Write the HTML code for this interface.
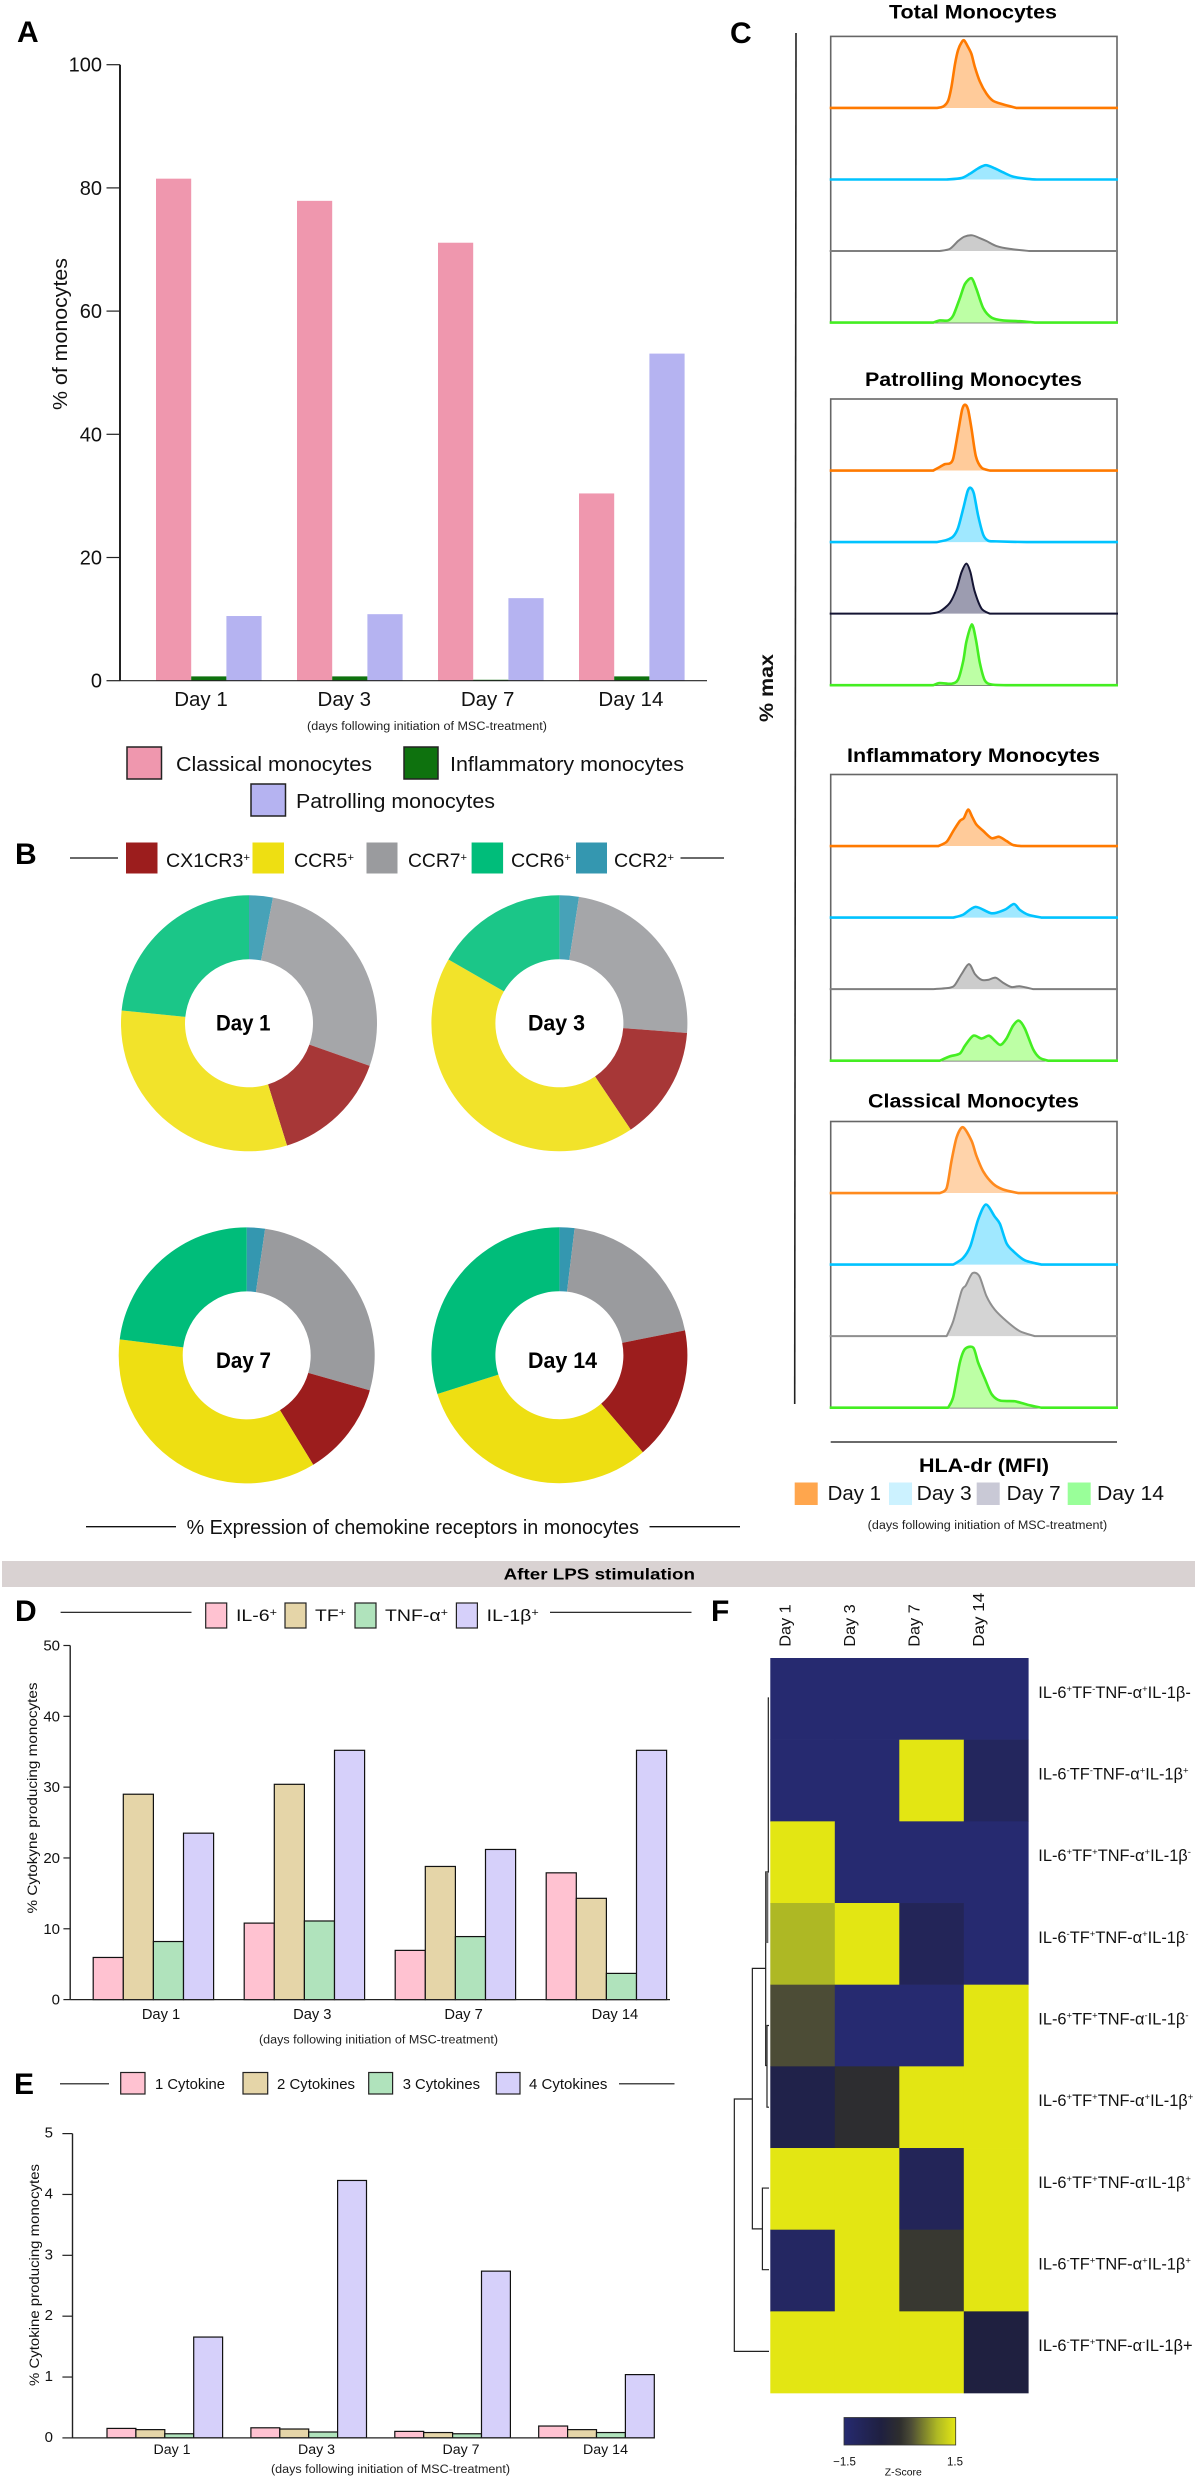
<!DOCTYPE html>
<html lang="en">
<head>
<meta charset="utf-8">
<title>Monocyte phenotype and cytokine figure</title>
<style>
html,body{margin:0;padding:0;background:#fff}
svg{display:block}
text{font-family:"Liberation Sans",Arial,sans-serif;fill:#111}
.panel{font-weight:bold;font-size:30px;fill:#000}
.t{font-weight:bold;font-size:19px;fill:#000}
.cap{font-size:11.5px;fill:#222}
</style>
</head>
<body>
<svg id="figure" width="1199" height="2480" viewBox="0 0 1199 2480">
<rect x="0" y="0" width="1199" height="2480" fill="#fff"/>
<g id="marks"></g>

<!-- Panel A -->
<text class="panel" x="17" y="42">A</text>
<text transform="translate(67 334) rotate(-90)" text-anchor="middle" font-size="20" textLength="152" lengthAdjust="spacingAndGlyphs">% of monocytes</text>
<text class="cap" x="307" y="730" textLength="240" lengthAdjust="spacingAndGlyphs">(days following initiation of MSC-treatment)</text>
<rect x="127" y="747" width="34.5" height="32" fill="#EF97AE" stroke="#222" stroke-width="1.5"/>
<text x="176" y="771" font-size="20" textLength="196" lengthAdjust="spacingAndGlyphs">Classical monocytes</text>
<rect x="404" y="747" width="34" height="32" fill="#0E720E" stroke="#222" stroke-width="1.5"/>
<text x="450" y="771" font-size="20" textLength="234" lengthAdjust="spacingAndGlyphs">Inflammatory monocytes</text>
<rect x="251" y="784" width="34.5" height="32" fill="#B5B3F1" stroke="#222" stroke-width="1.5"/>
<text x="296" y="808" font-size="20" textLength="199" lengthAdjust="spacingAndGlyphs">Patrolling monocytes</text>

<!-- Panel B -->
<text class="panel" x="15" y="864">B</text>
<line x1="70" x2="118" y1="858" y2="858" stroke="#111" stroke-width="1.3"/>
<rect x="126" y="842.5" width="31.5" height="31" fill="#9C1D1D"/>
<text x="166" y="867" font-size="19" textLength="84" lengthAdjust="spacingAndGlyphs">CX1CR3<tspan dy="-6" font-size="11">+</tspan></text>
<rect x="252.5" y="842.5" width="31.5" height="31" fill="#EEDF12"/>
<text x="294" y="867" font-size="19" textLength="60" lengthAdjust="spacingAndGlyphs">CCR5<tspan dy="-6" font-size="11">+</tspan></text>
<rect x="366.5" y="842.5" width="31" height="31" fill="#9A9B9E"/>
<text x="408" y="867" font-size="19" textLength="59" lengthAdjust="spacingAndGlyphs">CCR7<tspan dy="-6" font-size="11">+</tspan></text>
<rect x="471.6" y="842.5" width="31.5" height="31" fill="#00BD7A"/>
<text x="511" y="867" font-size="19" textLength="60" lengthAdjust="spacingAndGlyphs">CCR6<tspan dy="-6" font-size="11">+</tspan></text>
<rect x="576" y="842.5" width="31" height="31" fill="#3497B0"/>
<text x="614" y="867" font-size="19" textLength="60" lengthAdjust="spacingAndGlyphs">CCR2<tspan dy="-6" font-size="11">+</tspan></text>
<line x1="680.5" x2="724" y1="858" y2="858" stroke="#111" stroke-width="1.3"/>
<text x="216" y="1030.5" font-size="22" font-weight="bold" textLength="54.5" lengthAdjust="spacingAndGlyphs" style="fill:#000">Day 1</text>
<text x="528" y="1030.5" font-size="22" font-weight="bold" textLength="57" lengthAdjust="spacingAndGlyphs" style="fill:#000">Day 3</text>
<text x="216" y="1368" font-size="22" font-weight="bold" textLength="55" lengthAdjust="spacingAndGlyphs" style="fill:#000">Day 7</text>
<text x="528" y="1368" font-size="22" font-weight="bold" textLength="69" lengthAdjust="spacingAndGlyphs" style="fill:#000">Day 14</text>
<line x1="86" x2="176" y1="1526.7" y2="1526.7" stroke="#111" stroke-width="1.3"/>
<text x="186.6" y="1534" font-size="20" textLength="452.4" lengthAdjust="spacingAndGlyphs">% Expression of chemokine receptors in monocytes</text>
<line x1="649.5" x2="740" y1="1526.7" y2="1526.7" stroke="#111" stroke-width="1.3"/>

<!-- Panel C -->
<text class="panel" x="730" y="43">C</text>
<text class="t" x="889" y="18.4" textLength="168" lengthAdjust="spacingAndGlyphs">Total Monocytes</text>
<text class="t" x="865" y="386" textLength="217" lengthAdjust="spacingAndGlyphs">Patrolling Monocytes</text>
<text class="t" x="847" y="762" textLength="253" lengthAdjust="spacingAndGlyphs">Inflammatory Monocytes</text>
<text class="t" x="868" y="1107.6" textLength="211" lengthAdjust="spacingAndGlyphs">Classical Monocytes</text>
<line x1="796" y1="33" x2="794.7" y2="1404" stroke="#222" stroke-width="1.6"/>
<text transform="translate(773 688) rotate(-90)" text-anchor="middle" font-size="19" font-weight="bold" textLength="68" lengthAdjust="spacingAndGlyphs">% max</text>
<line x1="830.7" x2="1117" y1="1442" y2="1442" stroke="#111" stroke-width="1.3"/>
<text class="t" x="919" y="1472" textLength="130" lengthAdjust="spacingAndGlyphs" font-size="20">HLA-dr (MFI)</text>
<rect x="794.7" y="1482.5" width="23" height="22.5" fill="#FFA64D"/>
<text x="827.7" y="1500" font-size="20" textLength="53.3" lengthAdjust="spacingAndGlyphs">Day 1</text>
<rect x="889" y="1482.5" width="23" height="22.5" fill="#CCF2FF"/>
<text x="916.7" y="1500" font-size="20" textLength="55" lengthAdjust="spacingAndGlyphs">Day 3</text>
<rect x="976.7" y="1482.5" width="23" height="22.5" fill="#C9C9D6"/>
<text x="1006.7" y="1500" font-size="20" textLength="54" lengthAdjust="spacingAndGlyphs">Day 7</text>
<rect x="1067.7" y="1482.5" width="23" height="22.5" fill="#99FF99"/>
<text x="1097" y="1500" font-size="20" textLength="67" lengthAdjust="spacingAndGlyphs">Day 14</text>
<text class="cap" x="867.7" y="1529" textLength="239.5" lengthAdjust="spacingAndGlyphs">(days following initiation of MSC-treatment)</text>

<!-- Band -->
<rect x="2" y="1561" width="1193" height="26" fill="#D9D2D2"/>
<text x="503.6" y="1579.6" font-size="16" font-weight="bold" textLength="191.4" lengthAdjust="spacingAndGlyphs" style="fill:#000">After LPS stimulation</text>

<!-- Panel D -->
<text class="panel" x="15" y="1621">D</text>
<line x1="60.6" x2="191.5" y1="1612.3" y2="1612.3" stroke="#111" stroke-width="1.2"/>
<rect x="205.7" y="1603" width="21" height="25" fill="#FFC2D1" stroke="#222" stroke-width="1.2"/>
<text x="236" y="1621" font-size="17" textLength="41" lengthAdjust="spacingAndGlyphs">IL-6<tspan dy="-5" font-size="11">+</tspan></text>
<rect x="285" y="1603" width="21" height="25" fill="#E5D5A8" stroke="#222" stroke-width="1.2"/>
<text x="315" y="1621" font-size="17" textLength="31" lengthAdjust="spacingAndGlyphs">TF<tspan dy="-5" font-size="11">+</tspan></text>
<rect x="355" y="1603" width="21" height="25" fill="#B0E3BC" stroke="#222" stroke-width="1.2"/>
<text x="385" y="1621" font-size="17" textLength="63" lengthAdjust="spacingAndGlyphs">TNF-α<tspan dy="-5" font-size="11">+</tspan></text>
<rect x="456.4" y="1603" width="21" height="25" fill="#D6D0FA" stroke="#222" stroke-width="1.2"/>
<text x="486.7" y="1621" font-size="17" textLength="52" lengthAdjust="spacingAndGlyphs">IL-1β<tspan dy="-5" font-size="11">+</tspan></text>
<line x1="550" x2="691.5" y1="1612.3" y2="1612.3" stroke="#111" stroke-width="1.2"/>
<text transform="translate(37 1798) rotate(-90)" text-anchor="middle" font-size="14" textLength="231" lengthAdjust="spacingAndGlyphs">% Cytokyne producing monocytes</text>
<text class="cap" x="259" y="2043.5" textLength="239" lengthAdjust="spacingAndGlyphs">(days following initiation of MSC-treatment)</text>

<!-- Panel E -->
<text class="panel" x="14" y="2094">E</text>
<line x1="60" x2="109" y1="2083.8" y2="2083.8" stroke="#111" stroke-width="1.2"/>
<rect x="120.7" y="2072.5" width="24.3" height="21.5" fill="#FFC2D1" stroke="#222" stroke-width="1.2"/>
<text x="155" y="2089" font-size="15" textLength="70" lengthAdjust="spacingAndGlyphs">1 Cytokine</text>
<rect x="243" y="2072.5" width="24.7" height="21.5" fill="#E5D5A8" stroke="#222" stroke-width="1.2"/>
<text x="277" y="2089" font-size="15" textLength="78" lengthAdjust="spacingAndGlyphs">2 Cytokines</text>
<rect x="368.7" y="2072.5" width="23.9" height="21.5" fill="#B0E3BC" stroke="#222" stroke-width="1.2"/>
<text x="402.7" y="2089" font-size="15" textLength="77.3" lengthAdjust="spacingAndGlyphs">3 Cytokines</text>
<rect x="496.3" y="2072.5" width="23.7" height="21.5" fill="#D6D0FA" stroke="#222" stroke-width="1.2"/>
<text x="529" y="2089" font-size="15" textLength="78.4" lengthAdjust="spacingAndGlyphs">4 Cytokines</text>
<line x1="619" x2="674.5" y1="2083.8" y2="2083.8" stroke="#111" stroke-width="1.2"/>
<text transform="translate(39 2275) rotate(-90)" text-anchor="middle" font-size="14" textLength="222" lengthAdjust="spacingAndGlyphs">% Cytokine producing monocytes</text>
<text class="cap" x="271" y="2473" textLength="239" lengthAdjust="spacingAndGlyphs">(days following initiation of MSC-treatment)</text>

<!-- Panel F -->
<text class="panel" x="711" y="1621">F</text>
<text x="844.5" y="2465.7" text-anchor="middle" font-size="11.5">−1.5</text>
<text x="955" y="2465.7" text-anchor="middle" font-size="11.5">1.5</text>
<text x="903.3" y="2475.5" text-anchor="middle" font-size="10.5" textLength="37" lengthAdjust="spacingAndGlyphs">Z-Score</text>
</svg>

<script>
// ---------- Panel A data ----------
const aDays = ['Day 1', 'Day 3', 'Day 7', 'Day 14'];
const aTickLabels = [0, 20, 40, 60, 80, 100];
const classicalPct = [81.5, 77.9, 71.1, 30.4];
const inflammatoryPct = [0.7, 0.7, 0.15, 0.7];
const patrollingPct = [10.5, 10.8, 13.4, 53.1];

// ---------- Panel B data (percent of each ring; clockwise from top) ----------
const ccr2Share = [3.0, 2.45, 2.3, 1.9];
const ccr7Share = [27.4, 23.75, 27.1, 20.0];
const cx1cr3Share = [14.8, 14.4, 11.9, 16.8];
const ccr5Share = [31.4, 42.7, 35.7, 31.4];
const ccr6Share = [23.4, 16.7, 23.0, 29.9];

// ---------- Panel C data: [MFI position 0-100, % of max] ----------
const totalDay1 = [[37,0],[39.3,2],[41,10],[42.2,30],[43.4,61],[44.5,81],[45.7,91.5],[46.6,94.5],[48,85],[49.2,75],[50.3,58],[52.1,37],[54.4,20],[56.7,10],[60.2,5],[64.9,0]];
const totalDay3 = [[40.5,0],[45.7,2],[48.6,8],[51.5,15.6],[54.2,20],[57.3,15.6],[60.2,10],[63.7,4],[68.4,1],[71.9,0]];
const totalDay7 = [[38.1,0],[41.6,3],[44.5,14],[46.6,20],[49.4,22],[52.1,18],[54.4,14],[57.9,7],[62.6,3],[69.5,0]];
const totalDay14 = [[35.8,0],[38.1,3],[41,3],[42.8,10],[45.1,34],[46.9,54],[49.2,62],[50.9,47],[53.3,20],[56.2,7],[60.2,3],[66,2],[71.3,0]];
const patrollingDay1 = [[35.8,0],[38.1,5],[39.9,9],[41.6,10],[42.8,17],[44.5,54],[45.9,85],[46.9,92],[48,85],[49.2,58],[50.7,20],[52.7,4],[55.6,0]];
const patrollingDay3 = [[37,0],[40.5,3],[42.8,8],[44.5,20],[46.3,47],[47.8,71],[48.8,76],[50,68],[51.5,37],[53.3,10],[55,2],[57.9,1],[68.4,0]];
const patrollingDay7 = [[34.7,0],[38.1,3],[41.6,15],[43.9,34],[45.7,58],[47.4,70],[48.8,58],[50.3,31],[52.7,7],[55.6,0]];
const patrollingDay14 = [[35.8,0],[38.1,3],[42.2,2],[44.5,8],[46.3,34],[47.4,61],[49.3,85],[50.7,64],[52.1,31],[53.8,7],[56.2,1],[62.6,0]];
const inflammatoryDay1 = [[37.6,0],[40.5,6],[42.8,21],[45.1,35],[46.5,39],[48,51],[49.4,41],[50.9,30],[53.3,21],[56.2,11],[58.8,13],[61.4,7],[63.7,1.5],[66.6,0]];
const inflammatoryDay3 = [[42.8,0],[46.2,4],[50.6,15],[56.2,6],[60.8,11],[64,19],[66,11],[69,4],[73.6,0]];
const inflammatoryDay7 = [[35.8,0],[41.6,2],[43.4,6],[45.7,21],[48.3,35],[50.4,21],[52.7,13],[55,13],[57.6,16],[60.2,9],[63.1,3],[66,4],[70.7,0]];
const inflammatoryDay14 = [[38.1,0],[41.6,6],[45.1,10],[46.9,21],[49.8,35],[52.7,31],[55.3,35],[57.3,28],[59.3,22],[61.4,31],[63.7,49],[65.7,56],[67.8,45],[70.7,16],[73,4],[75.9,0]];
const classicalDay1 = [[38.1,0],[40.5,7],[42.2,45],[44,78],[46.2,92],[49.2,73],[50.9,52],[53.3,30],[56.7,13],[60.2,5],[65.5,0]];
const classicalDay3 = [[42.8,0],[46.2,9],[48.8,26],[51.5,63],[54.2,84],[57.3,67],[59.1,57],[61.4,30],[63.7,19],[67.8,6],[73.6,0]];
const classicalDay7 = [[40.5,0],[42.8,21],[45.7,63],[47.2,71],[49.5,88],[51.9,84],[54.4,56],[57.3,37],[61.4,21],[66,7],[71.3,0]];
const classicalDay14 = [[41,0],[42.8,15],[45.1,63],[46.9,82],[49.8,84],[51.5,63],[53.8,41],[56.2,19],[59.1,10],[64.3,9],[68.9,4],[73.6,0]];

// ---------- Panel D data ----------
const dDays = ['Day 1', 'Day 3', 'Day 7', 'Day 14'];
const dTickLabels = [0, 10, 20, 30, 40, 50];
const il6Pct = [5.95, 10.8, 6.95, 17.9];
const tfPct = [29, 30.4, 18.8, 14.3];
const tnfPct = [8.2, 11.1, 8.9, 3.7];
const il1bPct = [23.5, 35.2, 21.2, 35.2];

// ---------- Panel E data ----------
const eDays = ['Day 1', 'Day 3', 'Day 7', 'Day 14'];
const eTickLabels = [0, 1, 2, 3, 4, 5];
const oneCytokinePct = [0.156, 0.166, 0.107, 0.195];
const twoCytokinesPct = [0.136, 0.146, 0.088, 0.136];
const threeCytokinesPct = [0.068, 0.097, 0.068, 0.088];
const fourCytokinesPct = [1.657, 4.23, 2.74, 1.04];

// ---------- Panel F data ----------
const heatColumns = ['Day 1', 'Day 3', 'Day 7', 'Day 14'];
const heatRowLabels = [
  'IL-6^+TF^-TNF-α^+IL-1β-',
  'IL-6^-TF^-TNF-α^+IL-1β^+',
  'IL-6^+TF^+TNF-α^+IL-1β^-',
  'IL-6^-TF^+TNF-α^+IL-1β^-',
  'IL-6^+TF^+TNF-α^-IL-1β^-',
  'IL-6^+TF^+TNF-α^+IL-1β^+',
  'IL-6^+TF^+TNF-α^-IL-1β^+',
  'IL-6^-TF^+TNF-α^+IL-1β^+',
  'IL-6^-TF^+TNF-α^-IL-1β+'
];
const heatZ = [
  [-1.5, -1.5, -1.5, -1.5],
  [-1.5, -1.5, 1.5, -1.1],
  [1.5, -1.5, -1.5, -1.5],
  [1.0, 1.5, -1.0, -1.5],
  [0.3, -1.5, -1.5, 1.5],
  [-0.7, -0.05, 1.5, 1.5],
  [1.5, 1.5, -1.0, 1.5],
  [-1.2, 1.5, 0.1, 1.5],
  [1.5, 1.5, 1.5, -0.5]
];
// height, row position A, child height A, row position B, child height B
const dendrogramMerges = [
  [2, 0.49, 0, 2.62, 0],
  [5.8, 4.5, 0, 5.5, 0],
  [9.6, 2.62, 2, 4.99, 5.8],
  [19, 6.49, 0, 7.49, 0],
  [48, 3.8, 9.6, 6.99, 19],
  [100, 5.4, 48, 8.49, 0]
];
// tightly packed branch bundle: height A, height B, row position A, row position B
const dendrogramBundle = [9.6, 2, 2.62, 3.49];
const zStops = [-1.5, -0.5, 0, 0.3, 1.0, 1.5];
const zStopColors = ['#262A70', '#1F2040', '#2E2E2E', '#4C4C36', '#AEB824', '#E3E613'];

// ---------- helpers ----------
const svg = document.getElementById('figure');
const marks = document.getElementById('marks');
const NS = svg.namespaceURI;
function mk(tag, attrs, parent, content) {
  const el = document.createElementNS(NS, tag);
  for (const k in attrs) el.setAttribute(k, attrs[k]);
  if (content !== undefined) el.textContent = content;
  (parent || marks).appendChild(el);
  return el;
}
function slug(s) {
  return String(s).toLowerCase().replace(/[^a-z0-9]+/g, '-').replace(/^-|-$/g, '');
}
function hexRgb(h) {
  return [1, 3, 5].map(i => parseInt(h.substr(i, 2), 16));
}
function zColor(z) {
  const v = Math.max(zStops[0], Math.min(zStops[zStops.length - 1], z));
  let i = 0;
  while (i < zStops.length - 2 && v > zStops[i + 1]) i++;
  const t = (v - zStops[i]) / (zStops[i + 1] - zStops[i]);
  const a = hexRgb(zStopColors[i]), b = hexRgb(zStopColors[i + 1]);
  return 'rgb(' + a.map((c, k) => Math.round(c + (b[k] - c) * t)).join(',') + ')';
}

// ---------- grouped bar chart ----------
function drawBars(cfg) {
  const g = mk('g', {});
  
  
  const yOf = v => cfg.zeroY - v * (cfg.zeroY - cfg.topY) / cfg.maxValue;
  cfg.series.forEach((values, s) => {
    values.forEach((v, c) => {
      const x = cfg.firstX + c * cfg.groupStep + s * cfg.barW;
      const bar = mk('rect', {x: x, y: yOf(v), width: cfg.barW, height: cfg.zeroY - yOf(v), fill: cfg.colors[s], stroke: cfg.barStroke, 'stroke-width': cfg.barStrokeW}, g);
      
      
    });
  });
  const yAxis = mk('line', {x1: cfg.axisX, x2: cfg.axisX, y1: cfg.topY, y2: cfg.zeroY, stroke: '#222', 'stroke-width': cfg.yAxisW}, g);
  
  
  const xAxis = mk('line', {x1: cfg.axisX, x2: cfg.axisEnd, y1: cfg.zeroY, y2: cfg.zeroY, stroke: '#222', 'stroke-width': 1.2}, g);
  
  
  cfg.ticks.forEach(t => {
    const tick = mk('line', {x1: cfg.tickStart, x2: cfg.axisX, y1: yOf(t), y2: yOf(t), stroke: '#222', 'stroke-width': 1.2}, g);
    
    
    const label = mk('text', {x: cfg.tickLabelX, y: yOf(t) + cfg.tickLabelDy, 'text-anchor': 'end', 'font-size': cfg.tickFont}, g, String(t));
    
    
  });
  cfg.categories.forEach((c, i) => {
    const label = mk('text', {x: cfg.labelX + i * cfg.labelStep, y: cfg.labelY, 'text-anchor': 'middle', 'font-size': cfg.labelFont}, g, c);
    
    
  });
}

drawBars({
  name: 'a', categories: aDays, ticks: aTickLabels, maxValue: 100,
  series: [classicalPct, inflammatoryPct, patrollingPct],
  seriesNames: ['classical', 'inflammatory', 'patrolling'],
  colors: ['#EF97AE', '#0E720E', '#B5B3F1'],
  barStroke: 'none', barStrokeW: 0,
  firstX: 156, groupStep: 141, barW: 35.2, zeroY: 680.7, topY: 64.7,
  axisX: 120, axisEnd: 707, tickStart: 106.5, tickLabelX: 102, tickLabelDy: 7, tickFont: 20, yAxisW: 2,
  labelX: 201, labelStep: 143.3, labelY: 706, labelFont: 20.5
});
drawBars({
  name: 'd', categories: dDays, ticks: dTickLabels, maxValue: 50,
  series: [il6Pct, tfPct, tnfPct, il1bPct],
  seriesNames: ['il6', 'tf', 'tnf', 'il1b'],
  colors: ['#FFC2D1', '#E5D5A8', '#B0E3BC', '#D6D0FA'],
  barStroke: '#111', barStrokeW: 1.2,
  firstX: 93.2, groupStep: 151, barW: 30.1, zeroY: 1999.6, topY: 1645.5,
  axisX: 70.2, axisEnd: 670, tickStart: 63.4, tickLabelX: 60, tickLabelDy: 5, tickFont: 15, yAxisW: 1.4,
  labelX: 161, labelStep: 151.3, labelY: 2019, labelFont: 14.7
});
drawBars({
  name: 'e', categories: eDays, ticks: eTickLabels, maxValue: 5,
  series: [oneCytokinePct, twoCytokinesPct, threeCytokinesPct, fourCytokinesPct],
  seriesNames: ['1-cytokine', '2-cytokines', '3-cytokines', '4-cytokines'],
  colors: ['#FFC2D1', '#E5D5A8', '#B0E3BC', '#D6D0FA'],
  barStroke: '#111', barStrokeW: 1.2,
  firstX: 107, groupStep: 143.9, barW: 28.9, zeroY: 2437.9, topY: 2133.6,
  axisX: 72.5, axisEnd: 653.8, tickStart: 62.4, tickLabelX: 53, tickLabelDy: 4, tickFont: 15, yAxisW: 1.4,
  labelX: 172, labelStep: 144.5, labelY: 2454, labelFont: 14.2
});

// ---------- donuts ----------
function drawDonut(index, cx, cy, colors, dayName) {
  const rOuter = 128, rInner = 64;
  const shares = [ccr2Share[index], ccr7Share[index], cx1cr3Share[index], ccr5Share[index], ccr6Share[index]];
  const names = ['ccr2', 'ccr7', 'cx1cr3', 'ccr5', 'ccr6'];
  const total = shares.reduce((a, b) => a + b, 0);
  const pt = (r, a) => [cx + r * Math.sin(a), cy - r * Math.cos(a)];
  let acc = 0;
  shares.forEach((v, i) => {
    const a0 = acc / total * 2 * Math.PI;
    acc += v;
    const a1 = acc / total * 2 * Math.PI;
    const large = a1 - a0 > Math.PI ? 1 : 0;
    const p0 = pt(rOuter, a0), p1 = pt(rOuter, a1), p2 = pt(rInner, a1), p3 = pt(rInner, a0);
    const d = 'M' + p0 + ' A' + rOuter + ' ' + rOuter + ' 0 ' + large + ' 1 ' + p1 + ' L' + p2 + ' A' + rInner + ' ' + rInner + ' 0 ' + large + ' 0 ' + p3 + ' Z';
    const slice = mk('path', {d: d, fill: colors[i]});
    
    
  });
}
const lightDonut = ['#47A2B8', '#A5A6A9', '#A73737', '#F2E32A', '#1BC688'];
const darkDonut = ['#3497B0', '#9A9B9E', '#9C1D1D', '#EEDF12', '#00BD7A'];
drawDonut(0, 249, 1023.3, lightDonut, 'day-1');
drawDonut(1, 559.4, 1023.3, lightDonut, 'day-3');
drawDonut(2, 246.7, 1355.4, darkDonut, 'day-7');
drawDonut(3, 559.4, 1355.2, darkDonut, 'day-14');

// ---------- histograms ----------
function smoothPath(pts) {
  let d = '';
  for (let i = 0; i < pts.length - 1; i++) {
    const p0 = pts[Math.max(i - 1, 0)], p1 = pts[i], p2 = pts[i + 1], p3 = pts[Math.min(i + 2, pts.length - 1)];
    const k = 0.14;
    const c1 = [p1[0] + (p2[0] - p0[0]) * k, p1[1] + (p2[1] - p0[1]) * k];
    const c2 = [p2[0] - (p3[0] - p1[0]) * k, p2[1] - (p3[1] - p1[1]) * k];
    d += ' C' + c1 + ' ' + c2 + ' ' + p2;
  }
  return d;
}
const dayNames = ['day-1', 'day-3', 'day-7', 'day-14'];
function drawHistPanel(name, frameTop, curves, lineColors, fillColors) {
  const frameL = 830.7, frameW = 286.3, rowH = 71.55;
  const lineWidths = [2.6, 2.6, 2, 2.6];
  const xOf = m => frameL + m / 100 * frameW;
  const frame = mk('rect', {x: frameL, y: frameTop, width: frameW, height: rowH * 4, fill: '#fff', stroke: '#666', 'stroke-width': 1.6});
  
  
  curves.forEach((curve, r) => {
    const base = frameTop + rowH * (r + 1);
    const yOf = p => base - p / 100 * rowH;
    const pts = curve.map(c => [xOf(c[0]), yOf(c[1])]);
    const body = 'M' + pts[0] + smoothPath(pts);
    const area = mk('path', {d: body + ' Z', fill: fillColors[r], stroke: 'none'});
    
    
    const line = mk('path', {d: 'M' + (frameL - 1) + ',' + base + ' L' + pts[0] + smoothPath(pts) + ' L' + (frameL + frameW + 1) + ',' + base, fill: 'none', stroke: lineColors[r], 'stroke-width': lineWidths[r], 'stroke-linejoin': 'round'});
    
    
  });
}
const histLines = ['#FF7A00', '#00C3FF', '#7F7F7F', '#44EE22'];
const histFills = ['#FFCB9A', '#A0E8FF', '#CCCCCC', '#BDFFA5'];
drawHistPanel('total', 36.4, [totalDay1, totalDay3, totalDay7, totalDay14], histLines, histFills);
drawHistPanel('patrolling', 399, [patrollingDay1, patrollingDay3, patrollingDay7, patrollingDay14], ['#FF7A00', '#00C3FF', '#141433', '#44EE22'], ['#FFCB9A', '#A0E8FF', '#9C9CB0', '#BDFFA5']);
drawHistPanel('inflammatory', 774.5, [inflammatoryDay1, inflammatoryDay3, inflammatoryDay7, inflammatoryDay14], histLines, histFills);
drawHistPanel('classical', 1121.5, [classicalDay1, classicalDay3, classicalDay7, classicalDay14], ['#FF8A1E', '#00C3FF', '#8F8F8F', '#44EE22'], ['#FFD3AA', '#A0E8FF', '#D4D4D4', '#BDFFA5']);

// ---------- heatmap ----------
const heatLeft = 770.3, heatTop = 1658, cellW = 64.5, cellH = 81.67;
const colX = c => heatLeft + c * cellW;
const rowY = r => heatTop + r * cellH;
heatZ.forEach((row, r) => {
  row.forEach((z, c) => {
    const cell = mk('rect', {x: colX(c), y: rowY(r), width: cellW + 0.3, height: cellH + 0.3, fill: zColor(z)});
    
    
  });
});
heatColumns.forEach((label, c) => {
  const x = colX(c) + 20;
  const t = mk('text', {transform: 'translate(' + x + ' 1646.8) rotate(-90)', 'font-size': 16, textLength: label.length > 5 ? 54 : 42.5, lengthAdjust: 'spacingAndGlyphs'}, null, label);
  
  
});
heatRowLabels.forEach((label, r) => {
  const t = mk('text', {x: 1038.3, y: rowY(r) + cellH / 2 - 1, 'font-size': 16.4});
  
  
  const parts = label.split(/\^(.)/);
  let pendingDrop = false;
  parts.forEach((part, i) => {
    if (!part) return;
    const isSup = i % 2 === 1;
    const attrs = {};
    if (isSup) { attrs.dy = -6; attrs['font-size'] = 9.5; pendingDrop = true; }
    else if (pendingDrop) { attrs.dy = 6; pendingDrop = false; }
    mk('tspan', attrs, t, part);
  });
});

// ---------- dendrogram ----------
const treeX = h => 769 - h * 0.3467;
const treeY = pos => heatTop + pos * cellH;
dendrogramMerges.forEach((m, i) => {
  const d = 'M' + treeX(m[2]) + ' ' + treeY(m[1]) + ' H' + treeX(m[0]) + ' V' + treeY(m[3]) + ' H' + treeX(m[4]);
  const link = mk('path', {d: d, fill: 'none', stroke: '#222', 'stroke-width': 1.2});
  
  
});
const bundle = mk('rect', {x: treeX(dendrogramBundle[0]), y: treeY(dendrogramBundle[2]), width: treeX(dendrogramBundle[1]) - treeX(dendrogramBundle[0]), height: treeY(dendrogramBundle[3]) - treeY(dendrogramBundle[2]), fill: '#666'});



// ---------- colour bar ----------
const barLeft = 844, barW = 111.7, barTop = 2417.5, barH = 27.5;
const defs = mk('defs', {}, svg);
const grad = mk('linearGradient', {id: 'zScale', x1: 0, x2: 1, y1: 0, y2: 0}, defs);
zStops.forEach((z, i) => {
  mk('stop', {offset: (z - zStops[0]) / (zStops[zStops.length - 1] - zStops[0]), 'stop-color': zStopColors[i]}, grad);
});
const cbar = mk('rect', {x: barLeft, y: barTop, width: barW, height: barH, fill: 'url(#zScale)', stroke: '#333', 'stroke-width': 0.8});


</script>
</body>
</html>
